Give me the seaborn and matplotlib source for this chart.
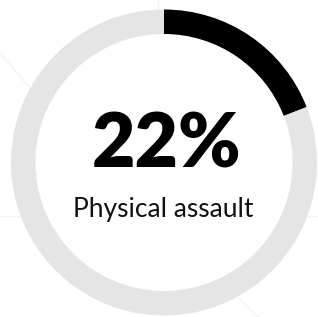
import matplotlib
matplotlib.use("Agg")
import matplotlib.pyplot as plt
import seaborn as sns

# values
label_value = "22%"
label_text = "Physical assault"
arc_share = 0.191          # share of the ring drawn in black
ring_parts = [arc_share, 1 - arc_share]
ring_colors = ["#000000", "#e5e5e5"]

sns.set_theme(style="white")
plt.rcParams['font.family'] = ['Lato', 'DejaVu Sans']

W, H = 318, 317
fig = plt.figure(figsize=(W / 100, H / 100), dpi=100)
ax = fig.add_axes([0, 0, 1, 1])

# faint background lines (pixel coords, y from top)
bg_lines = [((157.5, 0), (157.5, 40)),
            ((0, 53), (40, 100)),
            ((0, 216), (60, 216)),
            ((290, 216), (318, 216)),
            ((225, 285), (262, 320))]
for (x0, y0), (x1, y1) in bg_lines:
    ax.plot([x0, x1], [H - y0, H - y1], color="#f4f4f4", lw=1.0, zorder=0)

cx, cy = 164, H - 162.5
R, w = 153, 24.5
ax.add_patch(plt.Circle((cx, cy), R, color="white", zorder=1))
ax.pie(ring_parts, colors=ring_colors, startangle=90, counterclock=False,
       radius=R, center=(cx, cy),
       wedgeprops=dict(width=w, edgecolor="none", linewidth=0, zorder=2))

ax.text(167, H - 167, label_value, ha="center", va="baseline",
        fontsize=54, fontweight="heavy", color="black", zorder=3)
ax.text(163, H - 217, label_text, ha="center", va="baseline",
        fontsize=19, fontweight="normal", color="#111111", zorder=3)

ax.set_aspect("auto")
ax.set_xlim(0, W)
ax.set_ylim(0, H)
ax.axis("off")

fig.savefig("out.png", dpi=100, facecolor="white")
